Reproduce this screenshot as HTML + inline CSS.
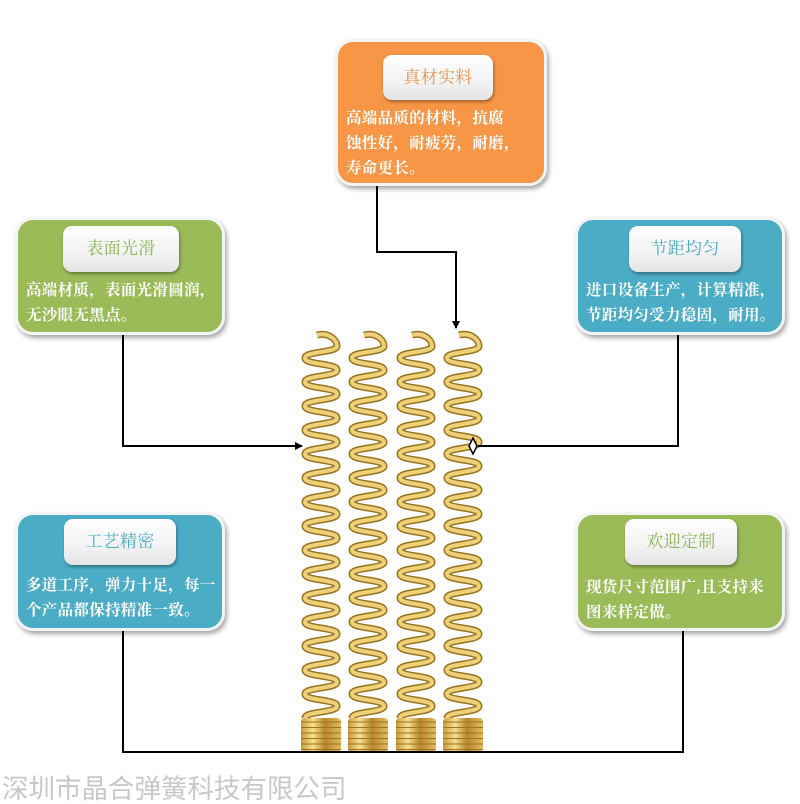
<!DOCTYPE html>
<html><head><meta charset="utf-8"><style>
body{margin:0;width:800px;height:804px;background:#fff;position:relative;overflow:hidden;font-family:"Liberation Serif","Noto Serif CJK SC",serif}
.box{position:absolute;border-radius:18px;border:3px solid #f4f4f4;box-shadow:2px 3px 5px rgba(0,0,0,.35);color:#fff;font-size:15.5px;line-height:25px;box-sizing:border-box;padding-left:8px;letter-spacing:0.3px;font-weight:bold}
.btn{position:absolute;border-radius:9px;background:linear-gradient(#ffffff,#f2f2f2 60%,#e4e4e4);box-shadow:1px 2px 3px rgba(0,0,0,.35);text-align:center;font-size:17px;font-weight:normal}
.t{position:absolute;left:8px;white-space:nowrap}
.g{background:#9bbb59}.o{background:#f79646}.b{background:#4bacc6}
</style></head><body>
<div class="box o" style="left:335px;top:39px;width:212px;height:147px">
 <div class="btn" style="left:45px;top:13px;width:110px;height:45px;line-height:45px;color:#e8934a">真材实料</div>
 <div class="t" style="top:64px">高端品质的材料，抗腐<br>蚀性好，耐疲劳，耐磨，<br>寿命更长。</div>
</div>
<div class="box g" style="left:15px;top:217px;width:210px;height:118px">
 <div class="btn" style="left:45px;top:6px;width:116px;height:46px;line-height:46px;color:#8cb356">表面光滑</div>
 <div class="t" style="top:58px">高端材质，表面光滑圆润，<br>无沙眼无黑点。</div>
</div>
<div class="box b" style="left:575px;top:217px;width:210px;height:118px">
 <div class="btn" style="left:51px;top:6px;width:112px;height:46px;line-height:46px;color:#4bacc6">节距均匀</div>
 <div class="t" style="top:58px">进口设备生产，计算精准，<br>节距均匀受力稳固，耐用。</div>
</div>
<div class="box b" style="left:15px;top:512px;width:210px;height:119px">
 <div class="btn" style="left:46px;top:4px;width:112px;height:46px;line-height:46px;color:#4bacc6">工艺精密</div>
 <div class="t" style="top:58px">多道工序，弹力十足，每一<br>个产品都保持精准一致。</div>
</div>
<div class="box g" style="left:575px;top:512px;width:210px;height:119px">
 <div class="btn" style="left:47px;top:4px;width:112px;height:46px;line-height:46px;color:#8cb356">欢迎定制</div>
 <div class="t" style="top:60px">现货尺寸范围广,且支持来<br>图来样定做。</div>
</div>
<svg width="800" height="804" style="position:absolute;left:0;top:0">
<defs>
<linearGradient id="gd" x1="0" x2="1"><stop offset="0" stop-color="#c99a3a"/><stop offset=".3" stop-color="#f6e08e"/><stop offset=".6" stop-color="#b8862a"/><stop offset="1" stop-color="#e2bc60"/></linearGradient>
<marker id="ar" markerWidth="8" markerHeight="8" refX="7" refY="4" orient="auto" markerUnits="userSpaceOnUse"><path d="M0,0 L8,4 L0,8z" fill="#000"/></marker>
</defs>
<g id="springs"></g>
<g stroke="#000" stroke-width="2" fill="none">
<path d="M377,186 V252 H456 V328" marker-end="url(#ar)"/>
<path d="M123,335 V446 H302" marker-end="url(#ar)"/>
<path d="M678,335 V446 H478"/>
<path d="M123,631 V752 H683 V631"/>
</g>
<path d="M473,438 L477,446 L473,454 L469,446z" fill="#fff" stroke="#000" stroke-width="1.5"/>
<text x="2" y="798" font-size="26.5" fill="#c8c8c8" font-family="Liberation Sans,Noto Sans CJK SC,sans-serif">深圳市晶合弹簧科技有限公司</text>
</svg>
<script>
var g=document.getElementById('springs'),s='';
[321,368,416,463].forEach(function(cx){
 var d='M'+(cx-4)+',335 ';var y=335;var A=16,p=24;
 d+='C'+(cx+8)+',332 '+(cx+A)+',340 '+(cx+A)+',346 ';
 y=346;var side=1;
 while(y<712){var ny=y+p/2;var x2=cx-side*A;
  d+='C'+(cx+side*A)+','+(y+7)+' '+(x2)+','+(ny-7)+' '+x2+','+ny+' ';y=ny;side=-side;}
 s+='<path d="'+d+'" stroke="#9c7420" stroke-width="7" fill="none"/>';
 s+='<path d="'+d+'" stroke="#ecd07a" stroke-width="4" fill="none"/>';
 s+='<rect x="'+(cx-20)+'" y="718" width="40" height="34" rx="4" fill="url(#gd)"/>';
 for(var k=0;k<6;k++)s+='<line x1="'+(cx-20)+'" x2="'+(cx+20)+'" y1="'+(722+k*5.5)+'" y2="'+(722+k*5.5)+'" stroke="#9c7420" stroke-width="1"/>';
});
g.innerHTML=s;
</script>
</body></html>
